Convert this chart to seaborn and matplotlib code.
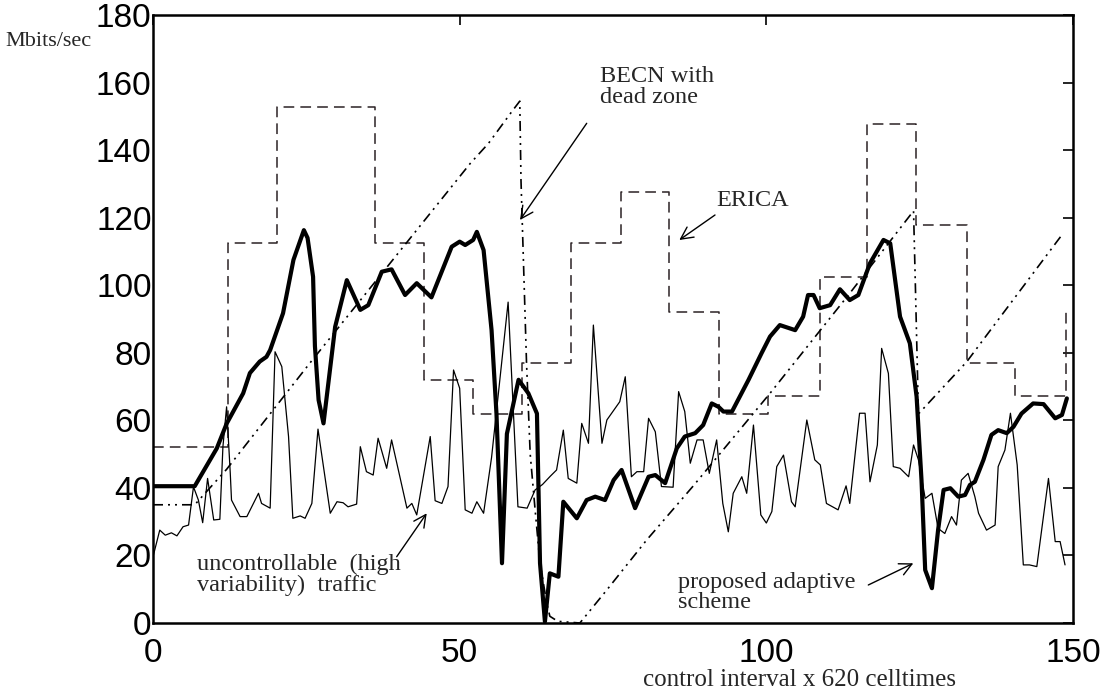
import numpy as np
import pandas as pd
import matplotlib
matplotlib.use("Agg")
import matplotlib.pyplot as plt
import seaborn as sns

# ---------------- data ----------------
traffic_x = [0.0, 1.1, 2.0, 3.0, 3.9, 4.9, 5.8, 6.6, 7.4, 8.1, 8.9, 9.9, 10.9, 11.4, 12.0, 12.6, 12.8,
             14.2, 15.3, 17.2, 17.7, 19.1, 19.9, 21.0, 22.1, 22.8, 24.0, 24.8, 25.9, 26.9, 28.9, 30.0,
             31.0, 31.8, 33.2, 33.8, 34.8, 35.9, 36.7, 38.1, 38.9, 41.4, 42.2, 43.0, 45.2, 46.0, 47.1,
             48.1, 49.0, 50.0, 50.9, 52.0, 52.8, 53.9, 55.2, 57.9, 59.5, 61.0, 62.3, 63.5, 64.8, 65.8,
             66.9, 67.7, 69.1, 69.9, 71.0, 71.8, 73.2, 74.0, 76.1, 77.0, 78.0, 78.9, 80.0, 80.8, 81.9,
             82.9, 84.8, 85.7, 86.7, 87.6, 88.7, 89.7, 90.7, 91.9, 92.9, 93.8, 94.6, 96.0, 96.8, 97.9,
             99.1, 100.0, 100.9, 101.7, 102.8, 104.1, 104.7, 106.6, 107.9, 108.8, 109.8, 111.7, 113.0,
             113.6, 115.2, 116.1, 116.9, 118.1, 118.8, 119.9, 120.7, 121.8, 123.2, 124.0, 124.8, 125.9,
             127.0, 128.0, 129.1, 130.2, 131.0, 131.8, 132.9, 134.0, 134.6, 135.9, 137.3, 137.8, 138.9,
             139.8, 140.9, 141.9, 142.9, 144.1, 146.0, 147.1, 147.9, 148.7]
traffic_y = [19.6, 27.5, 26.0, 26.7, 25.8, 28.5, 29.0, 40.3, 36.4, 29.7, 42.8, 30.5, 30.7, 52.2, 64.0, 44.3, 36.4,
             31.5, 31.5, 38.4, 35.4, 34.0, 80.3, 75.9, 55.2, 31.0, 31.7, 31.0, 35.4, 57.4, 32.5, 35.9,
             35.6, 34.4, 35.2, 52.2, 44.8, 43.8, 54.7, 45.8, 54.2, 34.0, 35.4, 32.0, 55.2, 36.2, 35.4,
             40.4, 74.9, 69.5, 33.5, 32.5, 35.9, 32.5, 49.0, 95.0, 34.4, 34.0, 39.4, 41.0, 43.5, 45.3,
             57.1, 42.8, 41.4, 59.1, 53.2, 88.2, 53.2, 60.1, 65.5, 72.9, 43.3, 44.8, 44.8, 60.6, 56.6,
             40.4, 40.2, 68.5, 62.6, 47.3, 54.2, 54.2, 44.3, 54.2, 35.4, 27.0, 38.4, 43.3, 38.4, 58.6,
             32.0, 29.6, 33.0, 46.3, 49.7, 35.9, 34.4, 60.1, 48.3, 46.8, 35.4, 33.5, 40.6,
             35.4, 62.1, 62.1, 41.8, 52.7, 81.3, 73.9, 46.3, 45.8, 43.3, 52.7, 48.3, 36.9,
             38.4, 28.0, 26.5, 31.5, 29.0, 42.3, 44.3, 37.4, 32.5, 27.5, 29.0, 46.3, 51.2,
             62.1, 46.8, 17.2, 17.2, 16.7, 42.8, 24.1, 24.1, 17.2]

adaptive_x = [0.0, 6.8, 10.4, 12.0, 14.7, 15.8, 17.4, 18.5, 19.1, 21.2, 22.9, 24.6, 25.2, 26.1, 26.4, 27.0,
              27.8, 29.7, 31.6, 33.8, 35.1, 37.3, 38.9, 41.1, 43.0, 45.4, 48.7, 50.0, 50.9, 52.2, 52.8,
              53.9, 55.2, 56.0, 56.9, 57.7, 59.6, 61.2, 62.6, 63.1, 63.9, 64.7, 66.1, 66.9, 69.1, 70.7,
              72.1, 73.7, 75.1, 76.4, 78.6, 80.8, 81.9, 83.5, 85.4, 86.7, 88.4, 89.7, 91.1, 92.2, 93.0,
              94.4, 97.1, 99.2, 100.6, 102.2, 104.7, 106.0, 106.8, 107.7, 108.7, 110.4, 112.0, 113.6,
              115.0, 116.9, 119.1, 120.2, 121.8, 123.4, 124.5, 125.3, 125.9, 127.0, 128.0, 128.9, 130.0,
              131.3, 132.4, 133.2, 134.0, 135.4, 136.7, 137.8, 139.2, 140.3, 141.6, 143.5, 145.2, 147.1,
              148.2, 149.0]
adaptive_y = [40.5, 40.5, 51.7, 59.0, 68.0, 74.0, 77.4, 78.8, 80.8, 91.7, 107.5, 116.3, 114.0, 102.5, 82.0, 66.0,
              59.1, 87.7, 101.5, 92.7, 94.1, 104.0, 104.7, 97.1, 100.6, 96.4, 111.4, 112.9, 111.9, 113.4, 115.8,
              110.4, 86.7, 62.0, 17.7, 56.0, 72.0, 68.0, 62.0, 17.7, 0.4, 14.7, 13.7, 35.9, 31.0, 36.4,
              37.4, 36.4, 42.3, 45.3, 34.0, 43.3, 43.8, 41.4, 51.7, 55.2, 56.2, 58.6, 65.0, 64.0, 62.6,
              62.6, 72.0, 79.8, 84.8, 88.2, 86.7, 90.7, 97.1, 97.1, 93.2, 94.1, 98.8, 95.6,
              97.1, 106.5, 113.4, 112.4, 90.7, 82.8, 67.0, 42.3, 15.7, 10.3, 27.5, 39.4, 39.9,
              37.4, 37.9, 40.9, 41.8, 48.3, 55.7, 57.1, 56.2, 58.1, 62.0, 65.0, 64.8, 60.6,
              61.6, 66.5]

becn_x = [0.0, 6.8, 12.0, 25.6, 51.7, 54.7, 58.5, 59.8, 60.0, 60.9, 61.5, 62.3, 63.1, 64.2, 64.7, 66.0,
          69.6, 74.0, 80.5, 88.0, 100.6, 113.6, 124.0, 124.3, 124.8, 132.7, 138.6, 148.4]
becn_y = [35.0, 35.0, 45.5, 77.0, 136.0, 142.0, 151.4, 154.5, 131.0, 77.0, 50.0, 33.5, 17.7, 5.9, 2.0, 0.5,
          0.0, 9.8, 24.6, 40.4, 68.0, 97.6, 122.0, 100.0, 61.9, 77.4, 91.7, 115.4]

erica_x = [0.0, 12.2, 20.2, 36.2, 44.2, 52.2, 60.1, 68.2, 76.3, 84.1, 92.3, 100.3, 108.7, 116.4,
           124.4, 132.7, 140.5, 148.9]
erica_y = [52.0, 112.6, 152.8, 112.6, 72.0, 62.0, 77.0, 112.6, 127.7, 92.2, 62.0, 67.2, 102.3, 147.7,
           117.8, 77.0, 67.2, 92.2]

x_ticks = [0, 50, 100, 150]
y_ticks = [0, 20, 40, 60, 80, 100, 120, 140, 160, 180]

# ---------------- style ----------------
sns.set_theme(style="white")
plt.rcParams["font.family"] = ["Liberation Sans", "DejaVu Sans"]
SERIF = ["Liberation Serif", "DejaVu Serif"]

W, H = 1113, 690
fig = plt.figure(figsize=(W / 100, H / 100), dpi=100)
fig.patch.set_facecolor("white")
ax = fig.add_axes([153 / W, (H - 623) / H, 920 / W, 608 / H])
ax.set_facecolor("white")

traffic = pd.DataFrame({"x": traffic_x, "y": traffic_y})
adaptive = pd.DataFrame({"x": adaptive_x, "y": adaptive_y})
becn = pd.DataFrame({"x": becn_x, "y": becn_y})
erica = pd.DataFrame({"x": erica_x, "y": erica_y})

sns.lineplot(data=erica, x="x", y="y", ax=ax, estimator=None, sort=False,
             drawstyle="steps-post", color="#2b2224", lw=1.1,
             linestyle=(0, (7, 4)))
sns.lineplot(data=becn, x="x", y="y", ax=ax, estimator=None, sort=False,
             color="black", lw=1.2, linestyle=(0, (6, 3, 1.2, 3, 1.2, 3)))
sns.lineplot(data=traffic, x="x", y="y", ax=ax, estimator=None, sort=False,
             color="black", lw=0.9)
sns.lineplot(data=adaptive, x="x", y="y", ax=ax, estimator=None, sort=False,
             color="black", lw=3.0, solid_joinstyle="round")

ax.set_xlim(0, 150)
ax.set_ylim(0, 180)
ax.set_xticks(x_ticks)
ax.set_yticks(y_ticks)
ax.set_xticklabels([str(v) for v in x_ticks])
ax.set_yticklabels([str(v) for v in y_ticks])
ax.set_xlabel("")
ax.set_ylabel("")
for s in ax.spines.values():
    s.set_visible(True)
    s.set_color("black")
    s.set_linewidth(1.8)
ax.tick_params(axis="both", direction="in", length=7, width=1.2, color="black",
               top=True, right=True, labelsize=24, labelcolor="black")
ax.tick_params(axis="x", pad=11)
ax.tick_params(axis="y", pad=1)

# ---------------- annotations ----------------
def d(px, py):
    return ((px - 153) / (920 / 150), (623 - py) / (608 / 180))

arrow = dict(arrowstyle="->", lw=1.0, color="black", shrinkA=0, shrinkB=0, mutation_scale=22)
FS = 17.5

ax.annotate("", xy=d(520, 220), xytext=d(586.7, 123.3), arrowprops=arrow)
ax.text(*d(600, 87), "BECN with\ndead zone", family=SERIF, fontsize=FS,
        ha="left", va="center", linespacing=1.0)

ax.annotate("", xy=d(679.3, 240), xytext=d(715, 215), arrowprops=arrow)
ax.text(*d(716.7, 200), "ERICA", family=SERIF, fontsize=FS, ha="left", va="center")

ax.annotate("", xy=d(426.7, 513.3), xytext=d(396.7, 556.7), arrowprops=arrow)
ax.text(*d(196.7, 575), "uncontrollable  (high\nvariability)  traffic", family=SERIF,
        fontsize=FS, ha="left", va="center", linespacing=0.98)

ax.annotate("", xy=d(913.3, 563.3), xytext=d(868.3, 585), arrowprops=arrow)
ax.text(*d(678.3, 592.5), "proposed adaptive\nscheme", family=SERIF,
        fontsize=FS, ha="left", va="center", linespacing=0.9)

fig.text(5 / W, 1 - 42 / H, "Mbits/sec", family=SERIF, fontsize=16, ha="left", va="center")
fig.text(643 / W, 1 - 680 / H, "control interval x 620 celltimes", family=SERIF,
         fontsize=18, ha="left", va="center")

fig.savefig("out.png", dpi=100, facecolor="white")
